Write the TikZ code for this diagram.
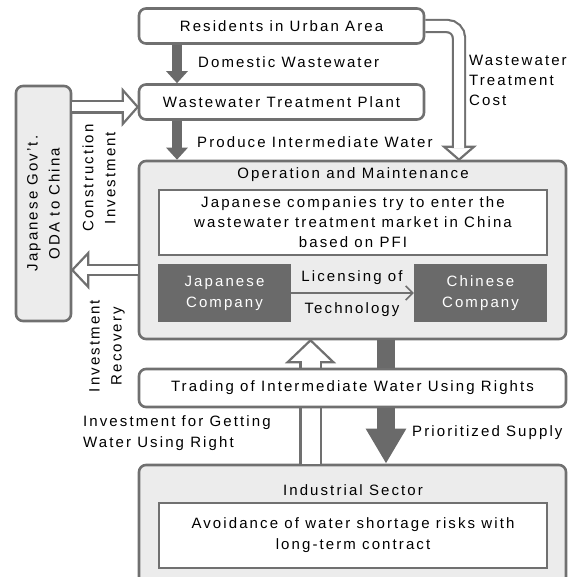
\documentclass[tikz,border=0pt]{standalone}
\usepackage{fontspec}
\setmainfont{Liberation Sans}[LetterSpace=14]
\usetikzlibrary{arrows.meta,calc}

\definecolor{boxline}{RGB}{112,112,112}
\definecolor{boxfill}{RGB}{236,236,236}
\definecolor{darkfill}{RGB}{106,106,106}

\tikzset{
  box/.style={draw=boxline, line width=2.6pt, rounded corners=7pt, fill=white, inner sep=0pt},
  panel/.style={box, fill=boxfill},
  inbox/.style={draw=boxline, line width=2.6pt, fill=white, inner sep=0pt, align=center},
  firm/.style={fill=darkfill, text=white, inner sep=0pt, align=center},
  flow/.style={draw=darkfill, line width=10pt, -{Triangle[width=21pt,length=12pt]}},
  supply/.style={draw=darkfill, line width=18pt, -{Triangle[width=38pt,length=35pt]}},
  hollow/.style={draw=boxline, line width=2.2pt, double=white},
  hollowhead/.style={draw=boxline, line width=2.2pt, fill=white, line join=miter},
  lbl/.style={inner sep=0pt, align=left},
}

\begin{document}
\begin{tikzpicture}[x=1pt, y=-1pt, font=\fontsize{15}{21}\selectfont]
\useasboundingbox (0,0) rectangle (575,577);
\clip (0,0) rectangle (575,577);

\node [box, minimum width=285pt, minimum height=35pt] (res) at (281.5,26) {Residents in Urban Area};
\node [box, minimum width=285pt, minimum height=35pt] (wtp) at (281.5,102) {Wastewater Treatment Plant};
\node [panel, minimum width=55pt, minimum height=235pt] (gov) at (43.5,203.5) {};
\node [rotate=90, align=center, inner sep=0pt, font=\fontsize{15}{22}\selectfont] (govtxt) at (gov.center) {Japanese Gov’t.\\ODA to China};

% operation and maintenance
\node [panel, minimum width=427pt, minimum height=178pt] (om) at (352.5,250) {};
\node [inner sep=0pt] (omtitle) at (353,175) {Operation and Maintenance};
\node [inbox, minimum width=388pt, minimum height=65pt, font=\fontsize{15}{20}\selectfont] (pfi) at (353,222.5)
  {Japanese companies try to enter the\\wastewater treatment market in China\\based on PFI};
\node [firm, minimum width=133pt, minimum height=58pt] (jpc) at (224.5,293) {Japanese\\Company};
\node [firm, minimum width=133pt, minimum height=58pt] (cnc) at (480.5,293) {Chinese\\Company};
\draw [draw=boxline, line width=1.6pt, -{Straight Barb[length=7pt,width=14pt]}] (jpc.east) -- (cnc.west);
\node [inner sep=0pt] (lic) at (352,278) {Licensing of};
\node [inner sep=0pt] (tech) at (352,310) {Technology};

% industrial sector
\node [panel, minimum width=427pt, minimum height=120pt] (ind) at (352.5,525) {};
\node [inner sep=0pt] (indtitle) at (353,490) {Industrial Sector};
\node [inbox, minimum width=388pt, minimum height=65pt] (avoid) at (353,535.5)
  {Avoidance of water shortage risks with\\long-term contract};

% investment for getting water using right
\coordinate (upx) at (310.5,0);
\draw [hollowhead] ($(om.south -| upx)+(-23,22)$) -- (om.south -| upx) -- ($(om.south -| upx)+(23,22)$) -- cycle;
\draw [hollow, double distance=18pt] (ind.north -| upx) -- ($(om.south -| upx)+(0,20.5)$);

\node [box, minimum width=427pt, minimum height=38pt] (trade) at (352.5,388) {Trading of Intermediate Water Using Rights};

% dark flows
\coordinate (flowx) at (177,0);
\draw [flow] (res.south -| flowx) -- (wtp.north -| flowx);
\draw [flow] (wtp.south -| flowx) -- (om.north -| flowx);
\coordinate (supx) at (386,0);
\draw [draw=darkfill, line width=18pt] (om.south -| supx) -- (trade.north -| supx);
\draw [supply] (trade.south -| supx) -- (ind.north -| supx);

% construction investment
\coordinate (ciy) at (0,107);
\draw [hollowhead] ($(wtp.west |- ciy)+(-15,-17)$) -- (wtp.west |- ciy) -- ($(wtp.west |- ciy)+(-15,17)$) -- cycle;
\draw [hollow, double distance=9pt] (gov.east |- ciy) -- ($(wtp.west |- ciy)+(-13.5,0)$);

% investment recovery
\coordinate (iry) at (0,270);
\draw [hollowhead] ($(gov.east |- iry)+(16,-17)$) -- (gov.east |- iry) -- ($(gov.east |- iry)+(16,17)$) -- cycle;
\draw [hollow, double distance=8pt] (om.west |- iry) -- ($(gov.east |- iry)+(14.5,0)$);

% wastewater treatment cost
\coordinate (wtcx) at (459,0);
\draw [hollowhead] ($(om.north -| wtcx)+(-15,-13)$) -- (om.north -| wtcx) -- ($(om.north -| wtcx)+(15,-13)$) -- cycle;
\draw [hollow, double distance=10pt, rounded corners=12pt] (res.east) -| ($(om.north -| wtcx)+(0,-11.5)$);

\node [lbl, anchor=west] (dom) at (198,62) {Domestic Wastewater};
\node [lbl, anchor=west] (prod) at (197,142) {Produce Intermediate Water};
\node [lbl, anchor=north west, font=\fontsize{15}{20}\selectfont] (cost) at (469,55) {Wastewater\\Treatment\\Cost};
\node [rotate=90, align=center, inner sep=0pt, font=\fontsize{15}{22}\selectfont] (cinv) at (99,178) {Construction\\Investment};
\node [rotate=90, align=center, inner sep=0pt, font=\fontsize{15}{22}\selectfont] (irec) at (107,346) {Investment\\Recovery};
\node [lbl, anchor=north west] (getw) at (83,415) {Investment for Getting\\Water Using Right};
\node [lbl, anchor=west] (prio) at (412,433) {Prioritized Supply};
\end{tikzpicture}
\end{document}
